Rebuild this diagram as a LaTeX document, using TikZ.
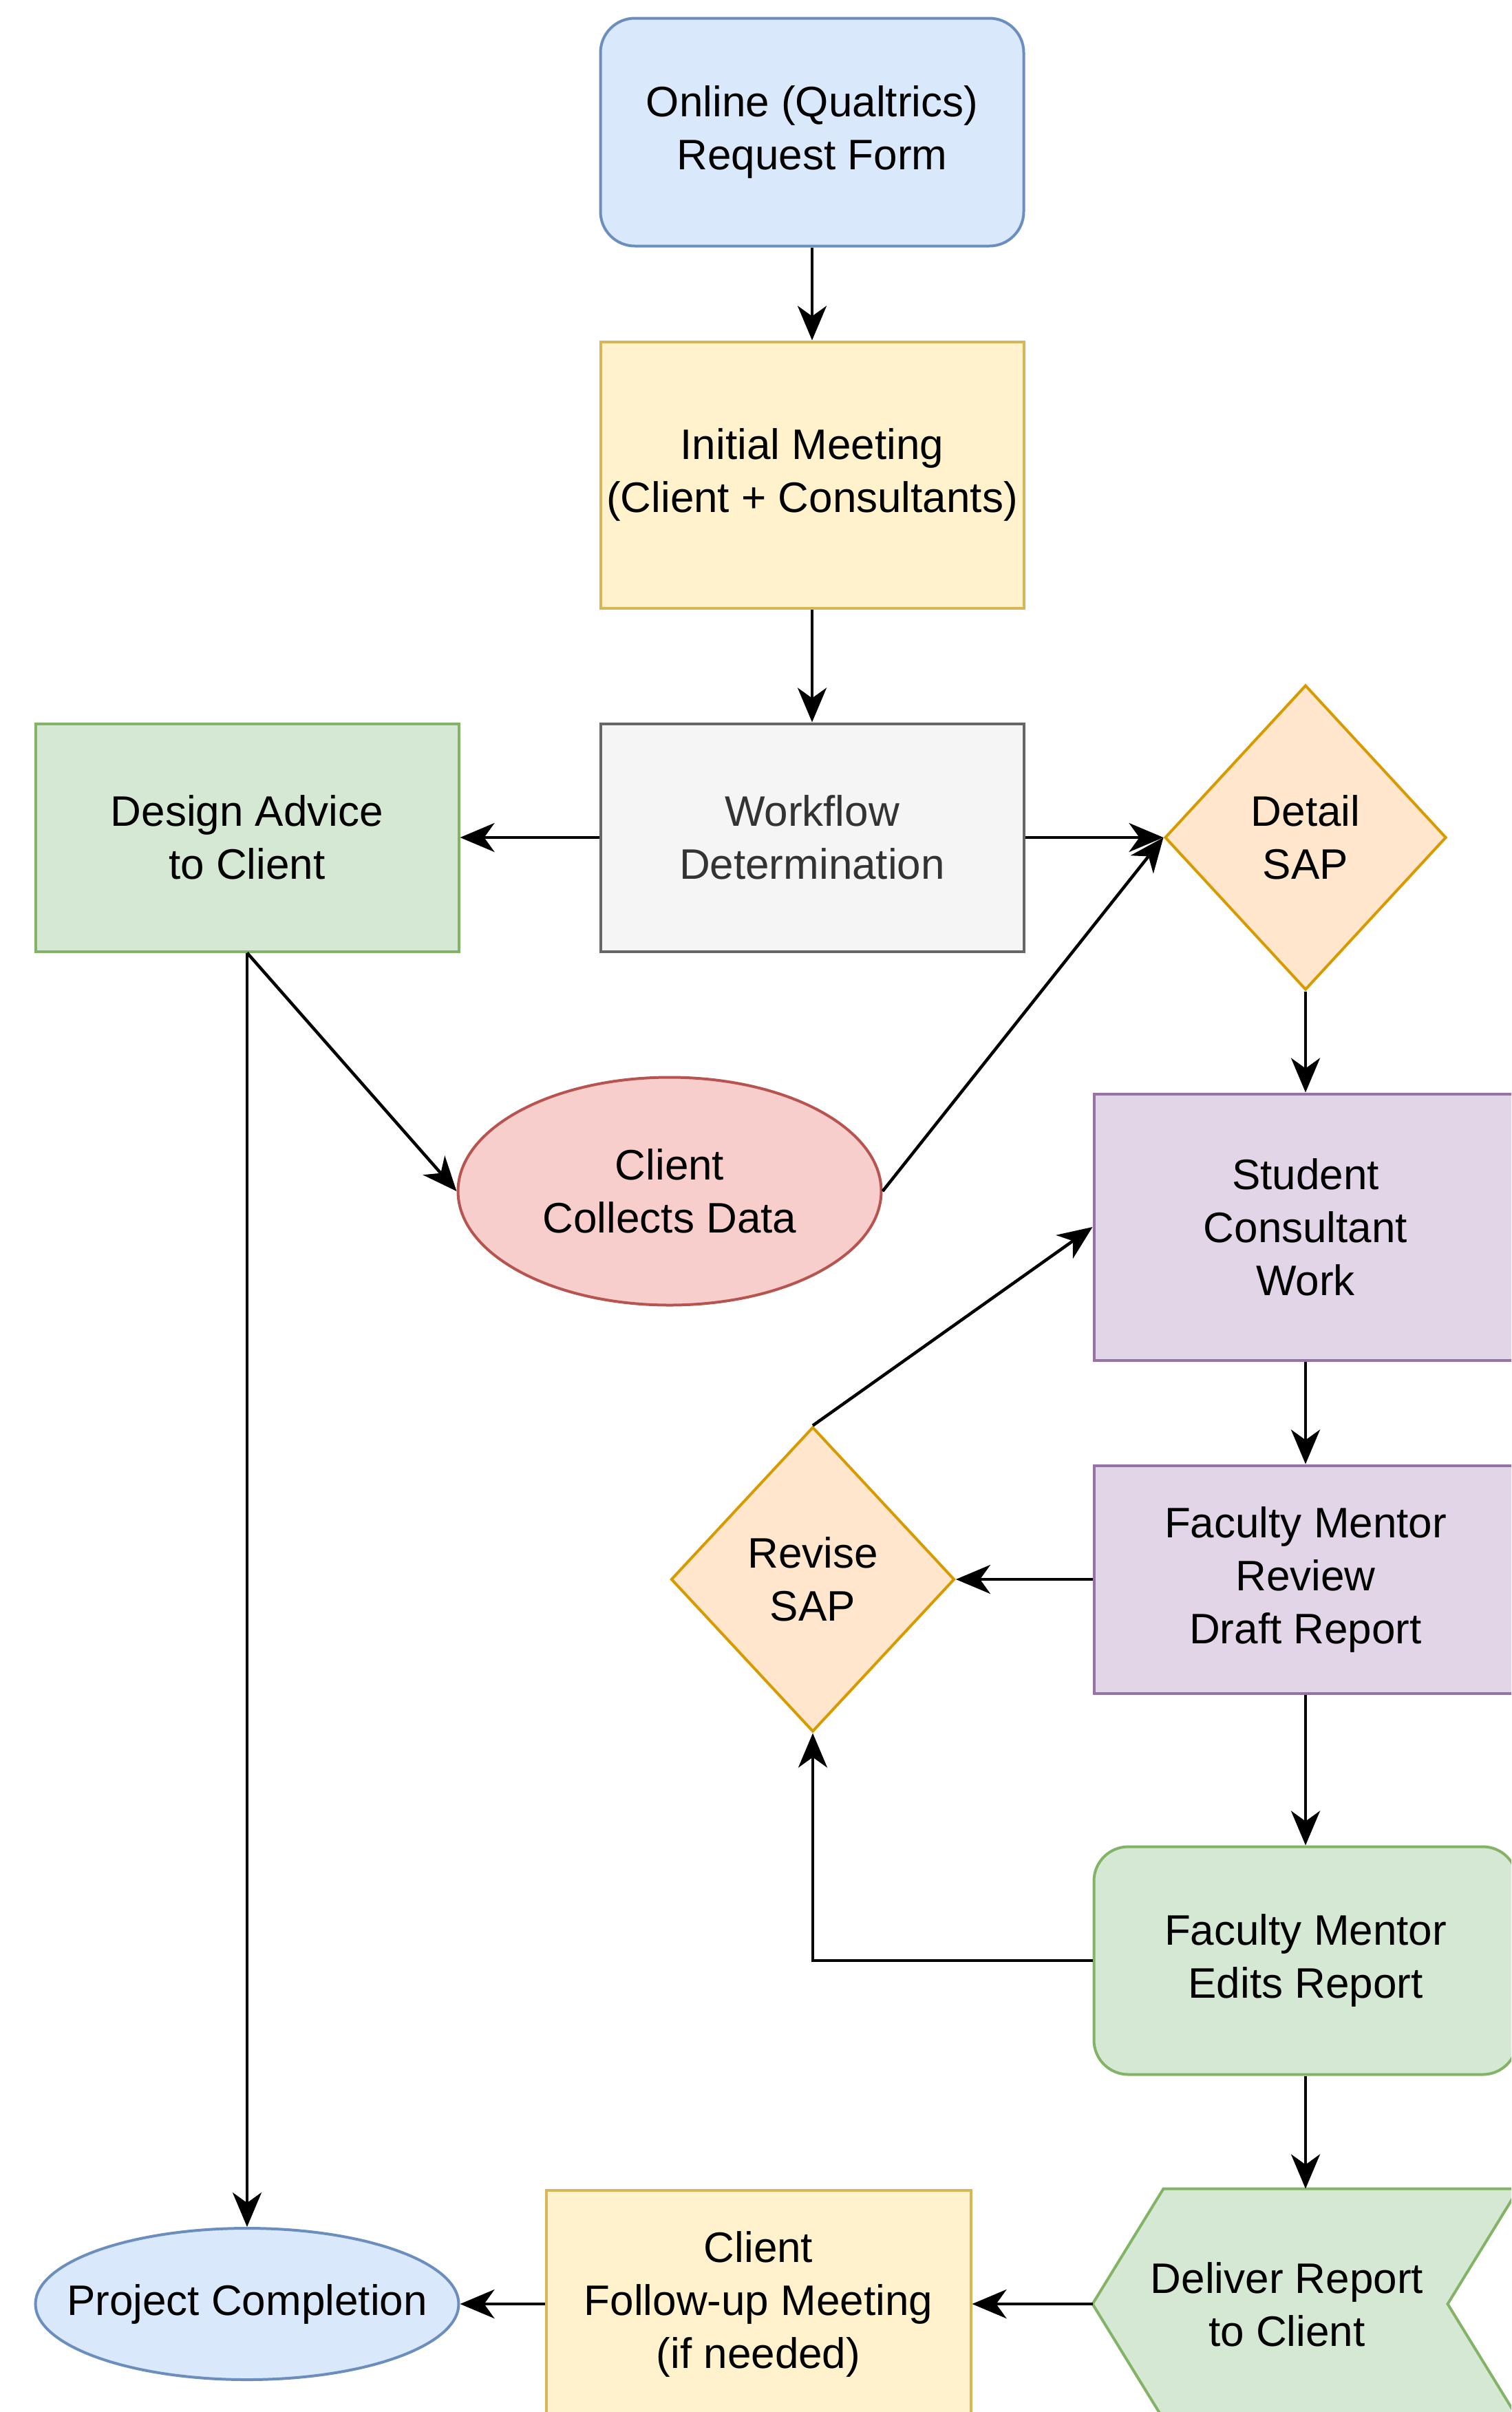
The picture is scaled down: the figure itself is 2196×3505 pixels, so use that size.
\documentclass[tikz,border=0pt]{standalone}
\usepackage{fontspec}
\setmainfont{Liberation Sans}
\usetikzlibrary{arrows.meta,shapes.geometric}
\definecolor{bluefill}{HTML}{DAE8FC}\definecolor{bluedraw}{HTML}{6C8EBF}
\definecolor{yelfill}{HTML}{FFF2CC}\definecolor{yeldraw}{HTML}{D6B656}
\definecolor{grayfill}{HTML}{F5F5F5}\definecolor{graydraw}{HTML}{666666}\definecolor{graytext}{HTML}{333333}
\definecolor{grnfill}{HTML}{D5E8D4}\definecolor{grndraw}{HTML}{82B366}
\definecolor{orgfill}{HTML}{FFE6CC}\definecolor{orgdraw}{HTML}{D79B00}
\definecolor{redfill}{HTML}{F8CECC}\definecolor{reddraw}{HTML}{B85450}
\definecolor{purfill}{HTML}{E1D5E7}\definecolor{purdraw}{HTML}{9673A6}
\begin{document}
\begin{tikzpicture}[x=1pt,y=-1pt,
  every node/.style={font=\fontsize{62}{77}\selectfont, align=center, inner sep=0pt, text=black},
  shp/.style={line width=4pt, minimum width=615pt, minimum height=331pt},
  bluebox/.style={shp, draw=bluedraw, fill=bluefill},
  yelbox/.style={shp, draw=yeldraw, fill=yelfill},
  graybox/.style={shp, draw=graydraw, fill=grayfill, text=graytext},
  grnbox/.style={shp, draw=grndraw, fill=grnfill},
  orgbox/.style={shp, draw=orgdraw, fill=orgfill, diamond},
  redbox/.style={shp, draw=reddraw, fill=redfill, ellipse},
  purbox/.style={shp, draw=purdraw, fill=purfill},
  conn/.style={line width=4.5pt, -{Stealth[length=50pt, width=42pt, inset=15pt]}}
]
\useasboundingbox (0,0) rectangle (2196,3505);
\clip (0,0) rectangle (2196,3505);

\node[bluebox, rounded corners=50pt] (online) at (1180,192) {Online (Qualtrics)\\Request Form};
\node[yelbox, minimum height=387pt] (initial) at (1180,690) {Initial Meeting\\(Client + Consultants)};
\node[graybox] (workflow) at (1180,1217) {Workflow\\Determination};
\node[grnbox] (design) at (359,1217) {Design Advice\\to Client};
\node[orgbox, minimum width=409pt, minimum height=443pt] (detail) at (1897,1217) {Detail\\SAP};
\node[redbox] (collects) at (973,1731) {};
\node (collectslabel) at (collects.center) {Client\\Collects Data};
\node[purbox, minimum height=387pt] (student) at (1897,1783) {Student\\Consultant\\Work};
\node[purbox] (review) at (1897,2295) {Faculty Mentor\\Review\\Draft Report};
\node[orgbox, minimum width=412pt, minimum height=443pt] (revise) at (1181,2295) {Revise\\SAP};
\node[grnbox, rounded corners=50pt] (edits) at (1897,2849) {Faculty Mentor\\Edits Report};
\node[shp, draw=none] (deliver) at (1897,3348) {};
\draw[line width=4pt, draw=grndraw, fill=grnfill]
  ([xshift=103pt]deliver.north west) -- (deliver.north east) -- ([xshift=-103pt]deliver.east)
  -- (deliver.south east) -- ([xshift=103pt]deliver.south west) -- (deliver.west) -- cycle;
\node (deliverlabel) at (1870,3349) {Deliver Report\\to Client};
\node[yelbox, minimum width=617pt] (followup) at (1102,3348) {Client\\Follow-up Meeting\\(if needed)};
\node[bluebox, ellipse, minimum height=220pt] (completion) at (359,3348) {};
\node (completionlabel) at (completion.center) {Project Completion};

\draw[conn] (online) -- (initial);
\draw[conn] (initial) -- (workflow);
\draw[conn] (workflow) -- (design);
\draw[conn] (workflow) -- (detail.west);
\draw[conn] (design.south) -- (collects.west);
\draw[conn] (collects.east) -- (detail.west);
\draw[conn] (detail.south) -- (student.north);
\draw[conn] (student) -- (review);
\draw[conn] (review.west) -- (revise.east);
\draw[conn] (revise.north) -- (student.west);
\draw[conn] (review) -- (edits);
\draw[conn] (edits.west) -| (revise.south);
\draw[conn] (edits.south) -- (deliver.north);
\draw[conn] (deliver.west) -- (followup.east);
\draw[conn] (followup.west) -- (completion.east);
\draw[conn] (design.south) -- (completion.north);
\end{tikzpicture}
\end{document}
